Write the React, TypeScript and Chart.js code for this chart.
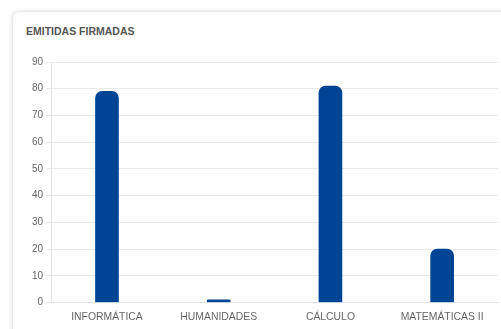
import React, { useEffect, useRef } from "react";
import { Chart, registerables } from "chart.js";

Chart.register(...registerables);

const categories = ["INFORMÁTICA", "HUMANIDADES", "CÁLCULO", "MATEMÁTICAS II"];
const emitidasFirmadas = [79, 1, 81, 20];
const yMax = 90;
const yStep = 10;
const titleText = "EMITIDAS FIRMADAS";

export default function App() {
  const ref = useRef<HTMLCanvasElement>(null);
  useEffect(() => {
    document.body.style.margin = "0";
    const chart = new Chart(ref.current!, {
      type: "bar",
      data: {
        labels: categories,
        datasets: [
          {
            data: emitidasFirmadas,
            backgroundColor: "#004595",
            borderRadius: 7,
            borderSkipped: "bottom",
            barThickness: 23,
          },
        ],
      },
      options: {
        animation: false,
        responsive: false,
        maintainAspectRatio: false,
        layout: { padding: { left: 29, top: 62, right: 3, bottom: 6 } },
        plugins: { legend: { display: false }, tooltip: { enabled: false } },
        scales: {
          x: {
            grid: { display: false },
            border: { display: true, color: "#e3e3e3" },
            ticks: { color: "#666", font: { family: "Arial, Liberation Sans", size: 10.4 }, padding: 0 },
          },
          y: {
            min: 0,
            max: yMax,
            ticks: { stepSize: yStep, color: "#666", font: { family: "Arial, Liberation Sans", size: 10 }, padding: 3 },
            grid: { color: "#e8e8e8", tickLength: 5 },
            border: { color: "#e3e3e3" },
          },
        },
      },
    });
    return () => chart.destroy();
  }, []);
  return (
    <div style={{ position: "fixed", left: 0, top: 0, width: 501, height: 329, background: "#fff", overflow: "hidden" }}>
      <div
        style={{
          position: "absolute",
          left: 13,
          top: 12,
          width: 520,
          height: 360,
          background: "#fff",
          borderRadius: 6,
          boxShadow: "0 0 5px rgba(0,0,0,0.2)",
        }}
      />
      <div
        style={{
          position: "absolute",
          left: 26,
          top: 25,
          fontFamily: "Arial, Liberation Sans",
          fontWeight: "bold",
          fontSize: 10.5,
          color: "#555",
          whiteSpace: "nowrap",
        }}
      >
        {titleText}
      </div>
      <canvas ref={ref} width={501} height={329} style={{ position: "absolute", left: 0, top: 0 }} />
    </div>
  );
}
